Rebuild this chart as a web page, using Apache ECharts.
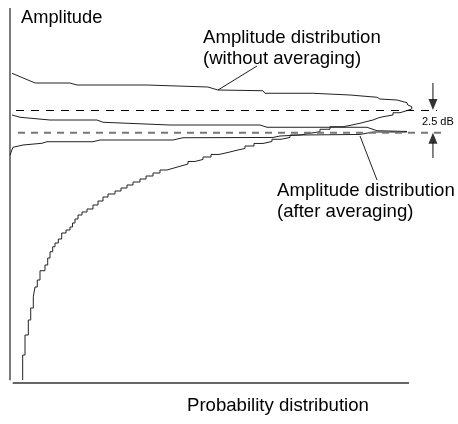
<!DOCTYPE html>
<html>
<head>
<meta charset="utf-8">
<script src="https://cdn.jsdelivr.net/npm/echarts@6/dist/echarts.min.js"></script>
<style>
html,body{margin:0;padding:0;background:#fff;}
#chart{width:458px;height:424px;}
</style>
</head>
<body>
<div id="chart"></div>
<script>
// x: probability (0..100 %), y: amplitude (dB, relative)
const withoutAvgUpper = [
  [0.5,34.07],[3.3,33.55],[6.3,33.0],[15.0,33.0],[16.8,32.78],[34.3,32.78],[34.6,32.56],
  [49.6,32.56],[52.1,32.23],[63.4,32.15],[63.9,31.87],[75.9,31.87],[85.2,31.68],[85.7,31.49],
  [92.0,31.43],[92.7,31.24],[97.0,31.13],[99.5,30.83],[99.7,30.58],[100.7,30.39],[100.68,30.14]
];
const withoutAvgLower = [
  [3.18,0.33],[3.76,3.08],[4.59,5.28],[5.19,6.93],[5.84,8.25],[6.27,9.49],[6.84,10.56],[7.52,11.33],
  [8.77,12.35],[9.45,12.98],[10.03,13.75],[10.70,14.44],[11.28,14.99],[12.11,15.40],[12.96,15.84],
  [14.04,16.50],[15.04,16.83],[15.66,17.16],[16.29,17.60],[17.04,18.04],[18.05,18.48],[19.30,18.81],
  [20.80,19.14],[22.06,19.58],[23.31,20.02],[24.56,20.46],[26.32,20.79],[27.82,21.12],[29.32,21.45],
  [30.83,21.78],[32.58,22.11],[34.09,22.44],[35.84,22.77],[37.59,23.10],[39.35,23.43],[41.10,23.65],
  [42.86,23.87],[44.61,24.09],[46.37,24.37],[48.37,24.59],[50.38,24.86],[52.38,25.14],[54.64,25.36],
  [56.64,25.58],[58.90,25.80],[61.15,26.07],[63.41,26.35],[65.66,26.57],[67.92,26.81],[70.18,27.01],
  [72.68,27.28],[75.19,27.47],[77.69,27.64],[80.20,27.91],[83.46,28.19],[85.71,28.38],[87.72,28.57],
  [89.47,28.77],[90.98,28.93],[92.23,29.15],[93.48,29.29],[95.99,29.48],[97.74,29.73],[99.42,29.95],
  [100.68,30.14]
];
const afterAvgUpper = [
  [0.5,29.48],[2.51,29.23],[10.03,28.93],[21.80,28.93],[23.31,28.68],[40.10,28.38],[62.66,28.38],
  [64.41,28.13],[89.47,28.13],[91.98,27.75],[99.50,27.67]
];
const afterAvgLower = [
  [0,25.08],[0.75,25.93],[3.26,26.18],[8.02,26.37],[9.27,26.54],[20.80,26.54],[22.56,26.73],
  [40.85,26.73],[43.36,26.98],[65.91,27.01],[67.67,27.17],[72.68,27.28],[87.72,27.34],
  [90.98,27.61],[99.50,27.61]
];
const peakLevel = 29.975;     // without averaging
const avgLevel = 27.53;       // after averaging (about 2.5 dB lower)
const peakLineX = [1.5, 107.0];
const avgLineX = [2.0, 108.3];
const arrowX = 106.0;
const arrowDownShaft = [33.0, 31.1];
const arrowDownHead = 30.64;
const arrowUpShaft = [24.75, 26.5];
const arrowUpHead = 26.93;
const pointerWithout = [[52.13,32.23],[61.9,34.87]];
const pointerAfter = [[87.72,27.17],[91.98,22.33]];
const yAxisSpan = [0.3, 41.25];   // drawn amplitude axis
const xAxisSpan = [0.67, 100];    // drawn probability axis

const yTitle = 'Amplitude';
const xTitle = 'Probability distribution';
const labelWithout = 'Amplitude distribution\n(without averaging)';
const labelAfter = 'Amplitude distribution\n(after averaging)';
const gapLabel = '2.5 dB';

const FONT = '"Liberation Sans", Arial, sans-serif';
const lineBase = {type:'line', symbol:'none', silent:true, animation:false};
const L = (data, style, extra) => Object.assign({}, lineBase, {data:data, lineStyle:style}, extra || {});

const chart = echarts.init(document.getElementById('chart'), null, {renderer:'canvas'});
chart.setOption({
  animation:false,
  backgroundColor:'#fff',
  grid:{left:0, top:0, right:0, bottom:0},
  xAxis:{type:'value', min:-2.506, max:112.28, show:false},
  yAxis:{type:'value', min:-4.51, max:42.13, show:false},
  series:[
    // axes
    L([[0,yAxisSpan[0]],[0,yAxisSpan[1]]], {color:'#333', width:1.3}),
    L([[xAxisSpan[0],0],[xAxisSpan[1],0]], {color:'#333', width:1.6}),
    // distributions
    L(withoutAvgUpper, {color:'#222', width:1}),
    L(withoutAvgLower, {color:'#222', width:1}, {step:'start'}),
    L(afterAvgUpper, {color:'#222', width:1}),
    L(afterAvgLower, {color:'#222', width:1}),
    // reference levels
    L([[peakLineX[0],peakLevel],[peakLineX[1],peakLevel]], {color:'#000', width:1, type:[8,7]}),
    L([[avgLineX[0],avgLevel],[avgLineX[1],avgLevel]], {color:'#777', width:2, type:[7,6]}),
    // arrows
    L([[arrowX,arrowDownShaft[0]],[arrowX,arrowDownShaft[1]]], {color:'#111', width:1}),
    L([[arrowX,arrowUpShaft[0]],[arrowX,arrowUpShaft[1]]], {color:'#111', width:1}),
    // pointers
    L(pointerWithout, {color:'#222', width:1}),
    L(pointerAfter, {color:'#222', width:1}),
    {type:'scatter', silent:true, animation:false, symbol:'triangle', symbolSize:[9,11],
      itemStyle:{color:'#000'},
      data:[{value:[arrowX,arrowDownHead], symbolRotate:180},{value:[arrowX,arrowUpHead], symbolRotate:0}]}
  ],
  graphic:[
    {type:'text', left:21, top:9, silent:true, style:{text:yTitle, font:'18.3px '+FONT, fill:'#000'}},
    {type:'text', left:203, top:27, silent:true, style:{text:labelWithout, font:'18.6px '+FONT, fill:'#000', lineHeight:21}},
    {type:'text', left:277, top:180, silent:true, style:{text:labelAfter, font:'18.6px '+FONT, fill:'#000', lineHeight:21}},
    {type:'text', left:187, top:396, silent:true, style:{text:xTitle, font:'18.6px '+FONT, fill:'#000'}},
    {type:'text', left:422, top:116, silent:true, style:{text:gapLabel, font:'11px '+FONT, fill:'#000'}}
  ]
});
</script>
</body>
</html>
